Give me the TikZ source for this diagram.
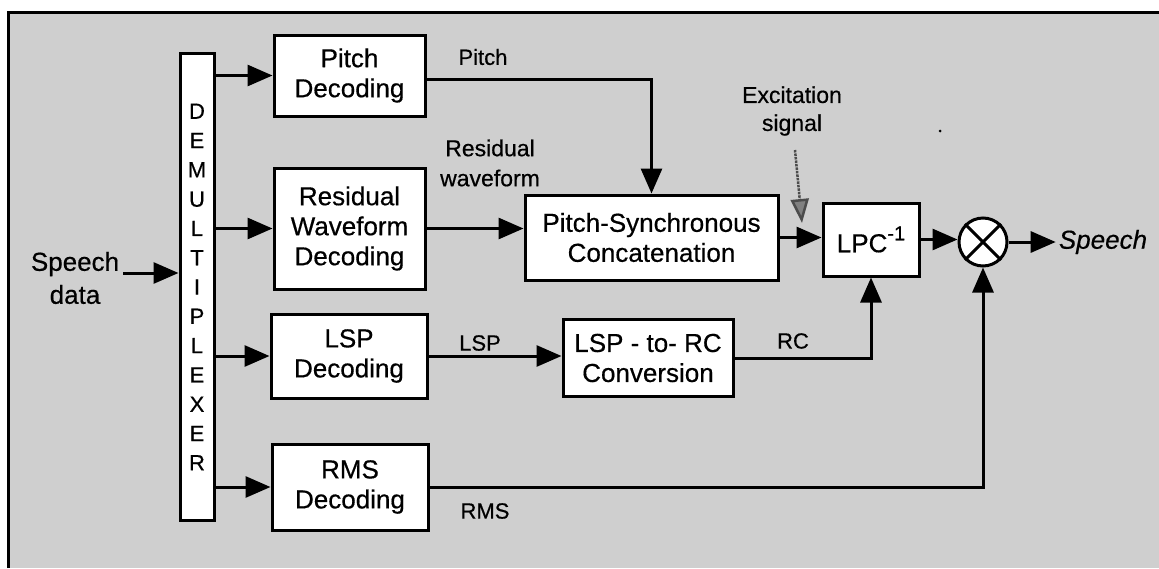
\documentclass[tikz,border=0pt]{standalone}
\usepackage{fontspec}
\setmainfont{Liberation Sans}[FakeBold=0.5]
\usetikzlibrary{arrows.meta}
\definecolor{bgc}{gray}{0.81}
\newcommand{\supone}{\raisebox{12pt}{\fontsize{20}{20}\selectfont -1}}
\begin{document}
\begin{tikzpicture}[x=1pt,y=-1pt,
  box/.style={draw,line width=3pt,fill=white,inner sep=0pt,align=center,font=\fontsize{26}{30}\selectfont},
  lbl/.style={inner sep=0pt,align=center,font=\fontsize{22}{29}\selectfont},
  arr/.style={line width=3pt,-{Triangle[length=25pt,width=21pt]}},
]
\useasboundingbox (0,0) rectangle (1159,568);
% background and frame
\fill[bgc] (8,12) rectangle (1159,568);
\draw[line width=3pt] (8,568) -- (8,12) -- (1159,12);

% demultiplexer
\node[box,minimum width=34pt,minimum height=467pt,font=\fontsize{22}{29.3}\selectfont] (demux) at (197,287)
  {D\\E\\M\\U\\L\\T\\I\\P\\L\\E\\X\\E\\R};

% decoding boxes
\node[box,minimum width=151pt,minimum height=81pt] (pitch) at (349.5,75.5) {Pitch\\Decoding};
\node[box,minimum width=151pt,minimum height=121pt] (rwd) at (349.5,228.5) {Residual\\Waveform\\Decoding};
\node[box,minimum width=156pt,minimum height=84pt] (lspd) at (349,356) {LSP\\Decoding};
\node[box,minimum width=156pt,minimum height=86pt] (rmsd) at (350,487) {RMS\\Decoding};

\node[box,minimum width=253pt,minimum height=85pt] (psc) at (651.5,237.5) {Pitch-Synchronous\\Concatenation};
\node[box,minimum width=170pt,minimum height=77pt] (lsprc) at (648,358) {LSP - to- RC\\Conversion};
\node[box,minimum width=96pt,minimum height=73pt] (lpc) at (871,239.5) {LPC\supone};
\node[draw,circle,line width=3pt,fill=white,minimum size=48pt,inner sep=0pt] (mult) at (983,242) {};
\draw[line width=3pt] (mult.north west) -- (mult.south east);
\draw[line width=3pt] (mult.north east) -- (mult.south west);

% labels
\node[lbl,font=\fontsize{26}{33}\selectfont] (sd) at (75,278) {Speech\\data};
\coordinate (sdin) at (123,273);
\node[lbl] (lpitch) at (483,57) {Pitch};
\node[lbl,font=\fontsize{23}{30}\selectfont] (lres) at (490,163) {Residual\\waveform};
\node[lbl] (llsp) at (480,343) {LSP};
\node[lbl] (lrc) at (793,341) {RC};
\node[lbl] (lrms) at (485,511) {RMS};
\node[lbl,font=\fontsize{23}{28}\selectfont] (exc) at (792,111) {Excitation\\signal};
\node[inner sep=3pt,font=\fontsize{26}{30}\selectfont\itshape] (spk) at (1103,242) {Speech};

% connectors
\draw[arr] (sdin) -- (sdin -| demux.west);
\draw[arr] (demux.east |- pitch.west) -- (pitch.west);
\draw[arr] (demux.east |- rwd.west) -- (rwd.west);
\draw[arr] (demux.east |- lspd.west) -- (lspd.west);
\draw[arr] (demux.east |- rmsd.west) -- (rmsd.west);
\draw[arr] ([yshift=-4pt]pitch.east) -| (psc.north);
\draw[arr] (rwd.east) -- (rwd.east -| psc.west);
\draw[arr] (psc.east) -- (psc.east -| lpc.west);
\draw[arr] (lpc.east) -- (lpc.east -| mult.west);
\draw[arr] (mult.east) -- (spk.west);
\draw[arr] (lspd.east) -- (lspd.east -| lsprc.west);
\draw[arr] (lsprc.east) -| (lpc.south);
\draw[arr] (rmsd.east) -| (mult.south);

% excitation signal arrow
\coordinate (excs) at (795,150);
\coordinate (exct) at (802,223);
\draw[line width=2.5pt,densely dotted,black!70,-{Triangle[length=24pt,width=18pt,fill=black!50]}] (excs) -- (exct);

% small speck
\fill (940,131) circle (1.5);
\end{tikzpicture}
\end{document}
